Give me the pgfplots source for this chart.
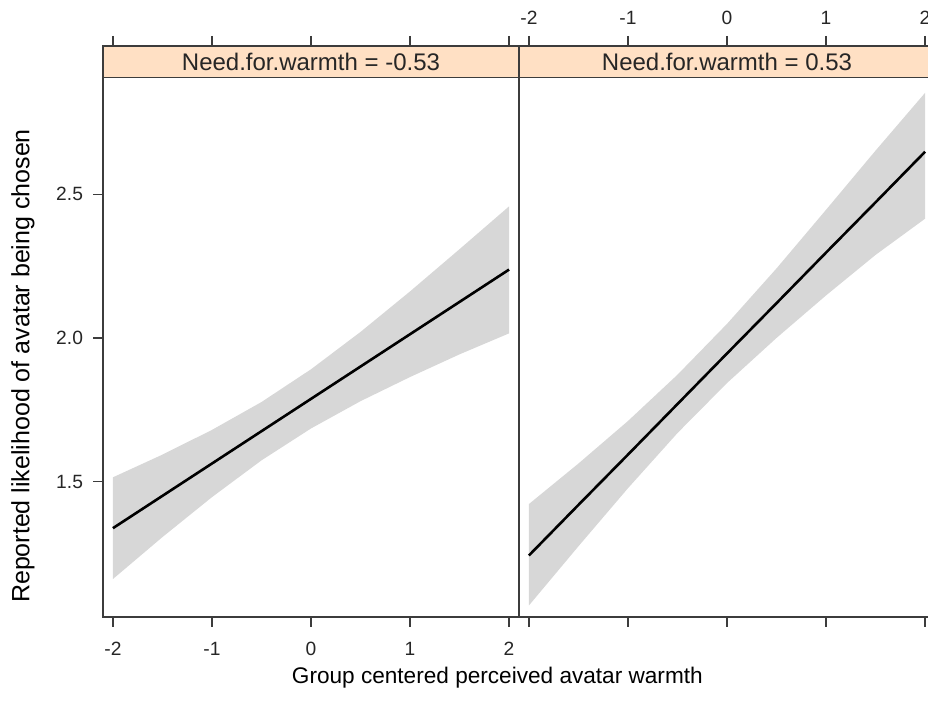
\documentclass[border=0pt]{standalone}
\usepackage{pgfplots}
\pgfplotsset{compat=1.18}
\usepgfplotslibrary{fillbetween}
\usepackage{pgfplotstable}
\usepackage{fontspec}
\setmainfont{Liberation Sans}
\definecolor{stripbg}{HTML}{FFE0C4}
\definecolor{bandgray}{RGB}{215,215,215}
\definecolor{axisgray}{RGB}{60,60,60}

\pgfplotstableread{
x fit lo hi
-2 1.338 1.161 1.515
-1.5 1.4505 1.307 1.594
-1 1.563 1.446 1.680
-0.5 1.6755 1.574 1.777
0 1.788 1.685 1.891
0.5 1.9005 1.780 2.021
1 2.013 1.864 2.162
1.5 2.1255 1.943 2.309
2 2.238 2.016 2.458
}\leftdata

\pgfplotstableread{
x fit lo hi
-2 1.243 1.069 1.422
-1.5 1.419 1.275 1.563
-1 1.594 1.477 1.711
-0.5 1.770 1.669 1.872
0 1.946 1.843 2.049
0.5 2.121 2.000 2.242
1 2.297 2.148 2.446
1.5 2.472 2.289 2.652
2 2.648 2.415 2.853
}\rightdata

\begin{document}
\begin{tikzpicture}
\pgfplotsset{panel/.style={
  scale only axis, width=208pt, height=285.5pt,
  anchor=south west,
  xmin=-2.1, xmax=2.1, ymin=1.029, ymax=3.016,
  axis on top=true,
  axis line style={axisgray, line width=0.6pt},
  every tick/.style={axisgray, line width=0.6pt},
  tick align=outside, major tick length=5pt,
  xtick={-2,-1,0,1,2}, ytick={1.5,2.0,2.5},
  tick label style={font=\fontsize{9.6}{11}\selectfont, text=black!85},
  clip=true,
}}
% left panel
\begin{axis}[panel, at={(51.5pt,42pt)},
  xticklabel pos=left, xtick pos=both,
  yticklabel pos=left, ytick pos=left,
  xticklabels={-2,-1,0,1,2}, yticklabels={1.5,2.0,2.5},
  xticklabel style={yshift=-4pt},
  yticklabel style={xshift=-1.5pt},
  xlabel={Group centered perceived avatar warmth},
  ylabel={Reported likelihood of avatar being chosen},
  xlabel style={font=\fontsize{11.3}{14}\selectfont, at={(axis description cs:0.948,-0.107)}, anchor=center},
  ylabel style={font=\fontsize{12.5}{14}\selectfont, at={(axis description cs:-0.1925,0.4396)}, anchor=center},
]
\addplot[name path=hi, draw=none, forget plot] table[x=x, y=hi] {\leftdata};
\addplot[name path=lo, draw=none, forget plot] table[x=x, y=lo] {\leftdata};
\addplot[bandgray, draw=none] fill between[of=hi and lo];
\addplot[black, line width=1.3pt] table[x=x, y=fit] {\leftdata};
\fill[stripbg] (axis cs:-2.1,2.907) rectangle (axis cs:2.1,3.016);
\draw[axisgray, line width=0.6pt] (axis cs:-2.1,2.907) -- (axis cs:2.1,2.907);
\node[font=\fontsize{12}{14}\selectfont, text=black!85] at (axis cs:0,2.962) {Need.for.warmth = -0.53};
\end{axis}
% right panel
\begin{axis}[panel, at={(259.5pt,42pt)},
  xticklabel pos=right, xtick pos=both,
  ytick pos=right,
  xticklabels={-2,-1,0,1,2}, yticklabels={},
  xticklabel style={yshift=2pt},
]
\addplot[name path=hi, draw=none, forget plot] table[x=x, y=hi] {\rightdata};
\addplot[name path=lo, draw=none, forget plot] table[x=x, y=lo] {\rightdata};
\addplot[bandgray, draw=none] fill between[of=hi and lo];
\addplot[black, line width=1.3pt] table[x=x, y=fit] {\rightdata};
\fill[stripbg] (axis cs:-2.1,2.907) rectangle (axis cs:2.1,3.016);
\draw[axisgray, line width=0.6pt] (axis cs:-2.1,2.907) -- (axis cs:2.1,2.907);
\node[font=\fontsize{12}{14}\selectfont, text=black!85] at (axis cs:0,2.962) {Need.for.warmth = 0.53};
\end{axis}
\pgfresetboundingbox
\useasboundingbox (0,0) rectangle (464pt,350.5pt);
\end{tikzpicture}
\end{document}
